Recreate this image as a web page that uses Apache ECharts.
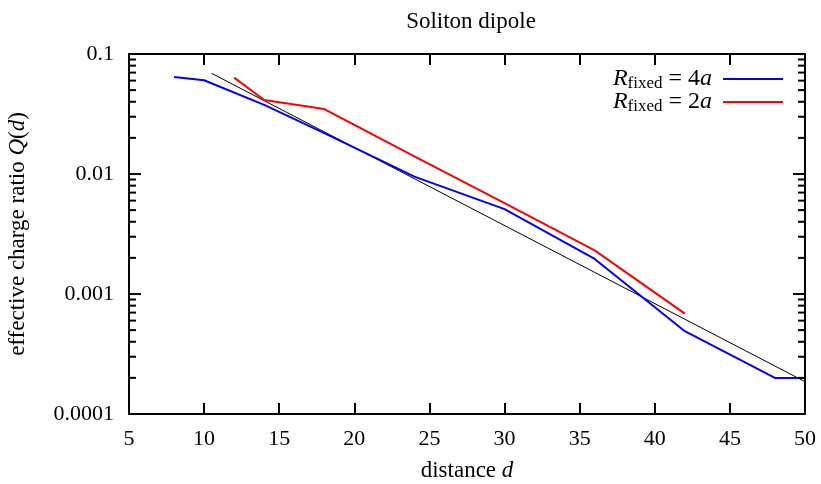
<!DOCTYPE html>
<html>
<head>
<meta charset="utf-8">
<script src="https://cdn.jsdelivr.net/npm/echarts@6/dist/echarts.min.js"></script>
<style>
html,body{margin:0;padding:0;background:#fff;}
#main{width:821px;height:484px;}
</style>
</head>
<body>
<div id="main"></div>
<script>
// R_fixed = 4a
var blueD = [8, 10, 14, 18, 24, 30, 36, 42, 48, 50];
var blueQ = [0.0643, 0.0604, 0.0377, 0.0219, 0.0095, 0.0051, 0.00196, 0.00049, 0.0002, 0.0002];
// R_fixed = 2a
var redD = [12, 14, 18, 24, 30, 36, 42];
var redQ = [0.0635, 0.0414, 0.0348, 0.0140, 0.00573, 0.00231, 0.000687];
// fit line (thin black)
var fitD = [10.5, 50];
var fitQ = [0.069, 0.000186];

var yTickLabels = ['0.0001', '0.001', '0.01', '0.1'];
var yMinor = [];
[0.0001, 0.001, 0.01].forEach(function (dec) {
    for (var k = 2; k <= 9; k++) yMinor.push(+(dec * k).toPrecision(3));
});

function pairs(xs, ys) {
    var out = [];
    for (var i = 0; i < xs.length; i++) out.push([xs[i], ys[i]]);
    return out;
}

var serif = 'Liberation Serif';
var myChart = echarts.init(document.getElementById('main'));

option = {
    backgroundColor: '#fff',
    animation: false,
    title: {
        text: 'Soliton dipole',
        left: 466,
        textAlign: 'center',
        top: 5,
        textStyle: {fontFamily: serif, fontSize: 23, fontWeight: 'normal', color: '#000'}
    },
    legend: {
        data: ['R4', 'R2'],
        orient: 'vertical',
        right: 38,
        top: 66,
        padding: 0,
        align: 'right',
        itemWidth: 60,
        itemHeight: 2,
        itemGap: -3,
        icon: 'rect',
        formatter: function (name) {
            var n = name === 'R4' ? '4' : '2';
            return '{i|R}{s|fixed}{e| = ' + n + '}{a|a}';
        },
        textStyle: {
            fontFamily: serif, fontSize: 23, color: '#000',
            rich: {
                i: {fontFamily: serif, fontStyle: 'italic', fontSize: 24, lineHeight: 22},
                a: {fontFamily: serif, fontStyle: 'italic', fontSize: 24, lineHeight: 22, padding: [0, 6, 0, 0]},
                s: {fontFamily: serif, fontSize: 17, padding: [9, 0, 0, 0], lineHeight: 22},
                e: {fontFamily: serif, fontSize: 24, lineHeight: 22}
            }
        }
    },
    grid: {left: 129, right: 16, top: 54, bottom: 70, outerBoundsMode: 'none'},
    xAxis: [
        {
            type: 'value', min: 5, max: 50, interval: 5,
            name: 'distance {i|d}',
            nameLocation: 'middle',
            nameGap: 45,
            nameTextStyle: {
                fontFamily: serif, fontSize: 23, color: '#000',
                rich: {i: {fontFamily: serif, fontStyle: 'italic', fontSize: 23}}
            },
            axisLine: {lineStyle: {color: '#000', width: 2}},
            axisTick: {inside: true, length: 11, lineStyle: {color: '#000', width: 2}},
            axisLabel: {fontFamily: serif, fontSize: 22, color: '#000', margin: 14},
            splitLine: {show: false}
        },
        {
            type: 'value', min: 5, max: 50, interval: 5, position: 'top',
            axisLine: {lineStyle: {color: '#000', width: 2}},
            axisTick: {inside: true, length: 11, lineStyle: {color: '#000', width: 2}},
            axisLabel: {show: false},
            splitLine: {show: false}
        }
    ],
    yAxis: [
        {
            type: 'log', logBase: 10, min: 0.0001, max: 0.1,
            name: 'effective charge ratio {i|Q}({i|d})',
            nameLocation: 'middle',
            nameGap: 100,
            nameTextStyle: {
                fontFamily: serif, fontSize: 23, color: '#000',
                rich: {i: {fontFamily: serif, fontStyle: 'italic', fontSize: 23}}
            },
            axisLine: {show: true, lineStyle: {color: '#000', width: 2}},
            axisTick: {inside: true, length: 12, lineStyle: {color: '#000', width: 2}},
            axisLabel: {
                fontFamily: serif, fontSize: 22, color: '#000', margin: 15,
                formatter: function (v) {
                    var idx = Math.round(Math.log10(v)) + 4;
                    return yTickLabels[idx];
                }
            },
            splitLine: {show: false}
        },
        {
            type: 'log', logBase: 10, min: 0.0001, max: 0.1, position: 'right',
            axisLine: {show: true, lineStyle: {color: '#000', width: 2}},
            axisTick: {inside: true, length: 12, lineStyle: {color: '#000', width: 2}},
            axisLabel: {show: false},
            splitLine: {show: false}
        }
    ],
    series: [
        {
            name: 'fit',
            type: 'line',
            data: pairs(fitD, fitQ),
            showSymbol: false,
            lineStyle: {color: '#000', width: 1},
            clip: true,
            z: 1
        },
        {
            name: 'R4',
            type: 'line',
            data: pairs(blueD, blueQ),
            showSymbol: false,
            itemStyle: {color: '#0000ff'},
            lineStyle: {color: '#0000ff', width: 2},
            z: 3
        },
        {
            name: 'R2',
            type: 'line',
            data: pairs(redD, redQ),
            showSymbol: false,
            itemStyle: {color: '#ff0000'},
            lineStyle: {color: '#ff0000', width: 2},
            z: 2
        },
        {
            // minor ticks of the log axis, both sides
            name: 'minor',
            type: 'custom',
            data: yMinor.map(function (v) { return [5, v]; }),
            renderItem: function (params, api) {
                var l = api.coord([5, api.value(1)]);
                var r = api.coord([50, api.value(1)]);
                var st = {stroke: '#000', lineWidth: 2};
                return {
                    type: 'group',
                    children: [
                        {type: 'line', shape: {x1: l[0], y1: l[1], x2: l[0] + 7, y2: l[1]}, style: st},
                        {type: 'line', shape: {x1: r[0], y1: r[1], x2: r[0] - 7, y2: r[1]}, style: st}
                    ]
                };
            },
            silent: true,
            z: 5
        }
    ]
};
myChart.setOption(option);
</script>
</body>
</html>
